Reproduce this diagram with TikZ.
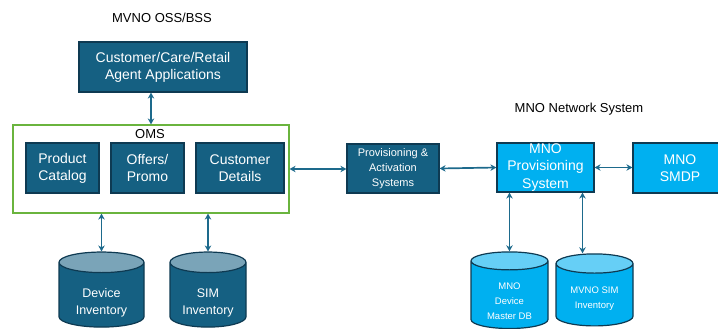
\documentclass[tikz,border=0pt]{standalone}
\usepackage{fontspec}
\setmainfont{Liberation Sans}
\usetikzlibrary{arrows.meta,shapes.geometric,calc}
\definecolor{darkblue}{HTML}{156082}
\definecolor{darkedge}{HTML}{0E3A52}
\definecolor{lightblue}{HTML}{00B0F0}
\definecolor{omsgreen}{HTML}{6AB43E}
\definecolor{linkblue}{HTML}{1D6A8C}
\definecolor{darktop}{HTML}{7AA4B8}
\definecolor{lighttop}{HTML}{66CFF6}
\begin{document}
\begin{tikzpicture}[
	x=1pt, y=-1pt,
	title/.style={font=\fontsize{13}{15}\selectfont},
	darkbox/.style={shape=rectangle, fill=darkblue, draw=darkedge, line width=1.2pt, text=white, align=center, inner sep=0pt, font=\fontsize{14}{17}\selectfont},
	lightbox/.style={darkbox, fill=lightblue},
	darkdb/.style={cylinder, shape border rotate=90, aspect=0.4, cylinder uses custom fill, cylinder body fill=darkblue, cylinder end fill=darktop, draw=darkedge, line width=1.2pt, text=white, align=center, inner sep=0pt},
	lightdb/.style={darkdb, cylinder body fill=lightblue, cylinder end fill=lighttop},
	link/.style={draw=linkblue, line width=1.7pt, {Stealth[length=6pt,width=6.5pt]}-{Stealth[length=6pt,width=6.5pt]}},
]
\path[use as bounding box, clip] (0,0) rectangle (718,329);

% MVNO side
\node[title] (osstitle) at (162,18) {MVNO OSS/BSS};
\node[darkbox, minimum width=168pt, minimum height=50pt] (agent) at (163,67) {Customer/Care/Retail\\Agent Applications};
\node[draw=omsgreen, line width=1.2pt, minimum width=276pt, minimum height=88pt, inner sep=0pt] (oms) at (151,169) {};
\node[title] (omslabel) at (150,134) {OMS};
\node[darkbox, minimum width=73pt, minimum height=50pt] (catalog) at (62.5,168) {Product\\Catalog};
\node[darkbox, minimum width=73pt, minimum height=50pt] (offers) at (147.5,168) {Offers/\\Promo};
\node[darkbox, minimum width=88pt, minimum height=50pt] (custdet) at (240,168) {Customer\\Details};
\node[darkbox, minimum width=92pt, minimum height=49pt, font=\fontsize{11}{15}\selectfont] (prov) at (393,168.5) {Provisioning \&\\Activation\\Systems};
\node[darkdb, minimum width=85pt, minimum height=72pt, text height=41pt, font=\fontsize{12.5}{16.5}\selectfont] (devinv) at (101.5,295) {Device\\Inventory};
\node[darkdb, minimum width=76pt, minimum height=72pt, text height=41pt, font=\fontsize{12.5}{16.5}\selectfont] (siminv) at (208,295) {SIM\\Inventory};

% MNO side
\node[title] (mnotitle) at (579,109) {MNO Network System};
\node[lightbox, minimum width=97pt, minimum height=49pt, font=\fontsize{14}{17.8}\selectfont] (mnoprov) at (545.5,167.5) {MNO\\Provisioning\\System};
\node[lightbox, minimum width=94pt, minimum height=50pt] (smdp) at (680,168) {MNO\\SMDP};
\node[lightdb, minimum width=77pt, minimum height=72pt, text height=49pt, font=\fontsize{9.5}{15}\selectfont] (mnodb) at (509.5,295) {MNO\\Device\\Master DB};
\node[lightdb, minimum width=77pt, minimum height=72pt, text height=29pt, font=\fontsize{9.5}{15}\selectfont] (mvnosim) at (594.5,295) {MVNO SIM\\Inventory};

% links
\draw[link] (oms.north |- agent.south) -- (oms.north);
\draw[link] (oms.east) -- (oms.east -| prov.west);
\draw[link] (prov.east) -- (mnoprov.west);
\draw[link] (mnoprov.east) -- (mnoprov.east -| smdp.west);
\draw[link] (oms.south -| devinv.north) -- (devinv.north);
\draw[link] (oms.south -| siminv.north) -- (siminv.north);
\draw[link] (mnoprov.south -| mnodb.north) -- (mnodb.north);
\coordinate (simtop) at ($(mvnosim.north)+(-12,0)$);
\draw[link] (mnoprov.south -| simtop) -- (simtop);
\end{tikzpicture}
\end{document}
